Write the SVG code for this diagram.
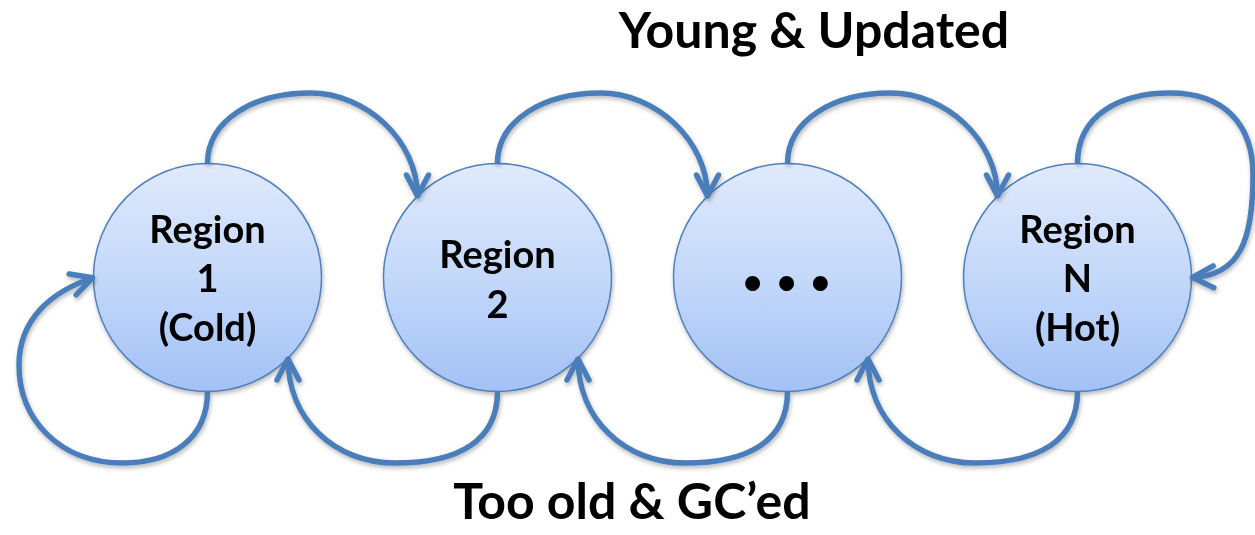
<svg xmlns="http://www.w3.org/2000/svg" width="1255" height="535" viewBox="0 0 1255 535">
  <style>
    .region { fill: url(#regionFill); stroke: #4f81bd; stroke-width: 1.5; }
    .label { font-family: Lato, "Open Sans", "Liberation Sans", sans-serif; font-weight: 700; font-size: 38px; fill: #000; text-anchor: middle; }
    .dots { font-family: Lato, "Open Sans", "Liberation Sans", sans-serif; font-weight: 700; font-size: 34px; fill: #000; text-anchor: middle; }
    .caption { font-family: Lato, "Open Sans", "Liberation Sans", sans-serif; font-weight: 700; font-size: 50px; fill: #000; text-anchor: middle; }
    .flow { fill: none; stroke: #4a7ebb; stroke-width: 5.5; marker-end: url(#openArrow); }
  </style>
  <defs>
    <linearGradient id="regionFill" x1="0" y1="0" x2="0" y2="1">
      <stop offset="0" stop-color="#e0eafc"/>
      <stop offset="0.5" stop-color="#c4d8fa"/>
      <stop offset="1" stop-color="#a3c1f6"/>
    </linearGradient>
    <filter id="softShadow" x="-10%" y="-10%" width="120%" height="130%">
      <feDropShadow dx="1" dy="2.5" stdDeviation="2" flood-color="#000" flood-opacity="0.28"/>
    </filter>
    <marker id="openArrow" markerUnits="userSpaceOnUse" viewBox="-30 -16 36 32" refX="0" refY="0" markerWidth="36" markerHeight="32" orient="auto">
      <path d="M-22,-11 L-1,0 L-22,11" fill="none" stroke="#4a7ebb" stroke-width="5.5" stroke-linecap="round" stroke-linejoin="round"/>
    </marker>
  </defs>

  <rect width="1255" height="535" fill="#fff"/>

  <!-- region nodes -->
  <g id="region-1" filter="url(#softShadow)">
    <circle class="region" cx="207.5" cy="277.5" r="114"/>
    <text class="label" x="207.5" y="243">Region</text>
    <text class="label" x="207.5" y="292">1</text>
    <text class="label" x="207.5" y="341">(Cold)</text>
  </g>
  <g id="region-2" filter="url(#softShadow)">
    <circle class="region" cx="497.5" cy="277.5" r="114"/>
    <text class="label" x="497.5" y="268">Region</text>
    <text class="label" x="497.5" y="318">2</text>
  </g>
  <g id="region-more" filter="url(#softShadow)">
    <circle class="region" cx="787.5" cy="277.5" r="114"/>
    <text class="dots" x="788" y="294" letter-spacing="3">• • •</text>
  </g>
  <g id="region-n" filter="url(#softShadow)">
    <circle class="region" cx="1077.5" cy="277.5" r="114"/>
    <text class="label" x="1077.5" y="243">Region</text>
    <text class="label" x="1077.5" y="292">N</text>
    <text class="label" x="1077.5" y="341">(Hot)</text>
  </g>

  <!-- transitions between regions -->
  <g id="connectors" filter="url(#softShadow)">
    <!-- promotions over the top -->
    <path class="flow" d="M207.5,163.5 C207.5,120 253.5,93 310.5,93 C365.5,93 417.5,140 417.5,197"/>
    <path class="flow" d="M497.5,163.5 C497.5,120 543.5,93 600.5,93 C655.5,93 707.5,140 707.5,197"/>
    <path class="flow" d="M787.5,163.5 C787.5,120 833.5,93 890.5,93 C945.5,93 997.5,140 997.5,197"/>
    <path class="flow" d="M1077.5,163.5 C1077.5,115 1120,93 1170,93 C1225,93 1253,125 1253,175 C1253,240 1240,276 1191.5,277.5"/>
    <!-- demotions underneath -->
    <path class="flow" d="M207.5,391.5 C207.5,440 170,463 123,463 C60,463 19,420 19,365 C19,320 50,292 93.5,277.5"/>
    <path class="flow" d="M497.5,391.5 C497.5,440 460,463 395,463 C335,463 288,420 288,358"/>
    <path class="flow" d="M787.5,391.5 C787.5,440 750,463 685,463 C625,463 578,420 578,358"/>
    <path class="flow" d="M1077.5,391.5 C1077.5,440 1040,463 975,463 C915,463 868,420 868,358"/>
  </g>

  <text id="title-top" class="caption" x="814" y="48">Young &amp; Updated</text>
  <text id="title-bottom" class="caption" x="632" y="519">Too old &amp; GC’ed</text>
</svg>
